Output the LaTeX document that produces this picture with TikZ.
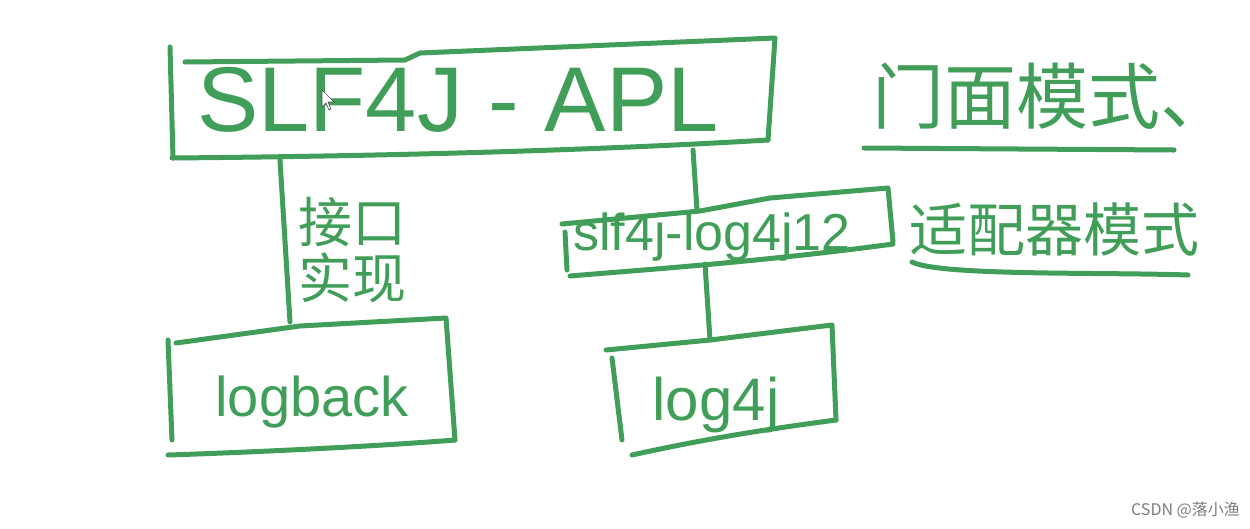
\documentclass[tikz,border=0pt]{standalone}
\usepackage{fontspec}
\setmainfont{Liberation Sans}
\newfontfamily\cjk{Noto Sans CJK SC}
\definecolor{pen}{RGB}{64,158,88}
\definecolor{wm}{RGB}{125,125,125}
\begin{document}
\begin{tikzpicture}[x=1pt,y=-1pt,
  pen/.style={draw=pen,line width=5pt,line cap=round,line join=round},
  hand/.style={text=pen,inner sep=0pt,font=#1},
  hand/.default={\fontsize{60}{60}\selectfont}]
\useasboundingbox[fill=white] (0,0) rectangle (1250,528);
% ---------- top box ----------
\coordinate (tl) at (172,158);
\coordinate (tr) at (768,140);
\draw[pen] (170,47) -- (173,158);
\draw[pen] (185,62) -- (405,60) -- (420,53) -- (775,38) -- (768,140);
\draw[pen] (tl) .. controls (400,156) and (600,150) .. (tr);
\node[hand={\fontsize{92}{92}\selectfont}] (api) at (458,100) {SLF4J - APL};
% cursor
\draw[black!70,fill=white,line width=0.6pt] (322,90) -- (322,107) -- (326,103) -- (329,110) -- (331,109) -- (328,102) -- (334,102) -- cycle;
% ---------- facade ----------
\node[hand={\cjk\fontsize{72}{72}\selectfont}] (facade) at (1052,96) {门面模式、};
\draw[pen] (864,148) -- (1174,150);
% ---------- adapter box ----------
\coordinate (at) at (697,210);
\coordinate (ab) at (705,264);
\draw[pen] (562,224) -- (700,211) -- (770,198) -- (888,188) -- (893,242);
\draw[pen] (565,232) -- (567,270);
\draw[pen] (570,276) .. controls (640,270) and (760,262) .. (893,244);
\node[hand={\fontsize{52}{52}\selectfont}] (adapter) at (712,237) {slf4j-log4j12};
\node[hand={\cjk\fontsize{58}{58}\selectfont}] (adaptertxt) at (1054,230) {适配器模式};
\draw[pen] (912,262) .. controls (940,276) and (1100,272) .. (1188,275);
% ---------- logback box ----------
\coordinate (lt) at (290,322);
\draw[pen] (168,340) -- (172,440);
\draw[pen] (176,343) -- (300,326) -- (446,318) -- (455,440);
\draw[pen] (168,455) .. controls (260,452) and (380,446) .. (455,440);
\node[hand={\fontsize{56}{56}\selectfont}] (logback) at (312,402) {logback};
% ---------- log4j box ----------
\coordinate (gt) at (710,340);
\draw[pen] (612,358) -- (622,440);
\draw[pen] (606,350) -- (710,340) -- (832,325) -- (836,420);
\draw[pen] (632,455) .. controls (700,440) and (760,430) .. (836,420);
\node[hand={\fontsize{60}{60}\selectfont}] (log4j) at (716,405) {log4j};
% ---------- connectors ----------
\draw[pen] (280,160) -- (lt);
\node[hand={\cjk\fontsize{54}{56}\selectfont}, align=center] (impl) at (352,250) {接口\\实现};
\draw[pen] (693,150) -- (at);
\draw[pen] (ab) -- (gt);
% ---------- watermark ----------
\node[text=wm,inner sep=0pt,font=\cjk\fontsize{16}{16}\selectfont,anchor=east] (wmk) at (1240,510) {CSDN @落小渔};
\end{tikzpicture}
\end{document}
